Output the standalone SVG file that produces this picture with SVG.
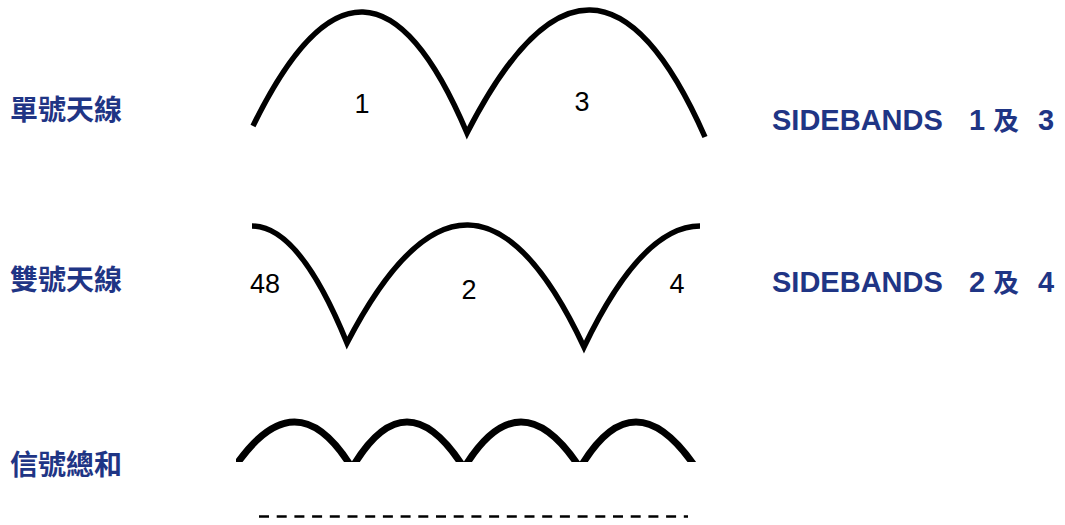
<svg xmlns="http://www.w3.org/2000/svg" width="1065" height="525" viewBox="0 0 1065 525">
<style>
.wave{fill:none;stroke:#000;stroke-width:5.5;stroke-linecap:butt;stroke-linejoin:miter}
.sum{fill:none;stroke:#000;stroke-width:7}
.num{font-family:"Liberation Sans",Arial,sans-serif;font-size:27px;fill:#000;text-anchor:middle}
.cjk{font-family:"Noto Sans CJK TC","Noto Sans CJK SC",sans-serif;font-size:28px;font-weight:bold;fill:#1F3585}
.side{font-family:"Liberation Sans",Arial,sans-serif;font-size:29px;font-weight:bold;fill:#1F3585}
.sidecjk{font-family:"Noto Sans CJK TC",sans-serif;font-size:26px;font-weight:bold;fill:#1F3585}
.dash{stroke:#000;stroke-width:2.5;stroke-dasharray:10 7.7;fill:none}
</style>
<defs>
<clipPath id="clipSum"><rect x="236" y="400" width="470" height="62"/></clipPath>
</defs>
<g id="label-single"><text class="cjk" x="10" y="120">單號天線</text></g>
<g id="label-double"><text class="cjk" x="10" y="290">雙號天線</text></g>
<g id="label-sum"><text class="cjk" x="10" y="475">信號總和</text></g>
<g id="wave-single">
<path class="wave" d="M253,126 Q366,-105.5 467,133 Q594,-115 705,137"/>
<text class="num" x="362" y="113">1</text>
<text class="num" x="582" y="111">3</text>
</g>
<g id="wave-double">
<path class="wave" d="M252,226 Q299.5,226 347,343 Q470.5,105 584,347 Q642,226 700,226"/>
<text class="num" x="265" y="293">48</text>
<text class="num" x="469" y="299">2</text>
<text class="num" x="677" y="293">4</text>
</g>
<g id="wave-sum" clip-path="url(#clipSum)">
<path class="sum" d="M234,468 Q296,376 352,468 Q406,376 464,468 Q520,376 580,468 Q634,376 696,468"/>
</g>
<g id="baseline"><line class="dash" x1="259" y1="516.5" x2="688" y2="516.5"/></g>
<g id="sidebands-13">
<text class="side" x="772" y="130">SIDEBANDS</text>
<text class="side" x="969" y="130">1</text>
<text class="sidecjk" x="993" y="130">及</text>
<text class="side" x="1038" y="130">3</text>
</g>
<g id="sidebands-24">
<text class="side" x="772" y="292">SIDEBANDS</text>
<text class="side" x="969" y="292">2</text>
<text class="sidecjk" x="993" y="292">及</text>
<text class="side" x="1038" y="292">4</text>
</g>
</svg>
